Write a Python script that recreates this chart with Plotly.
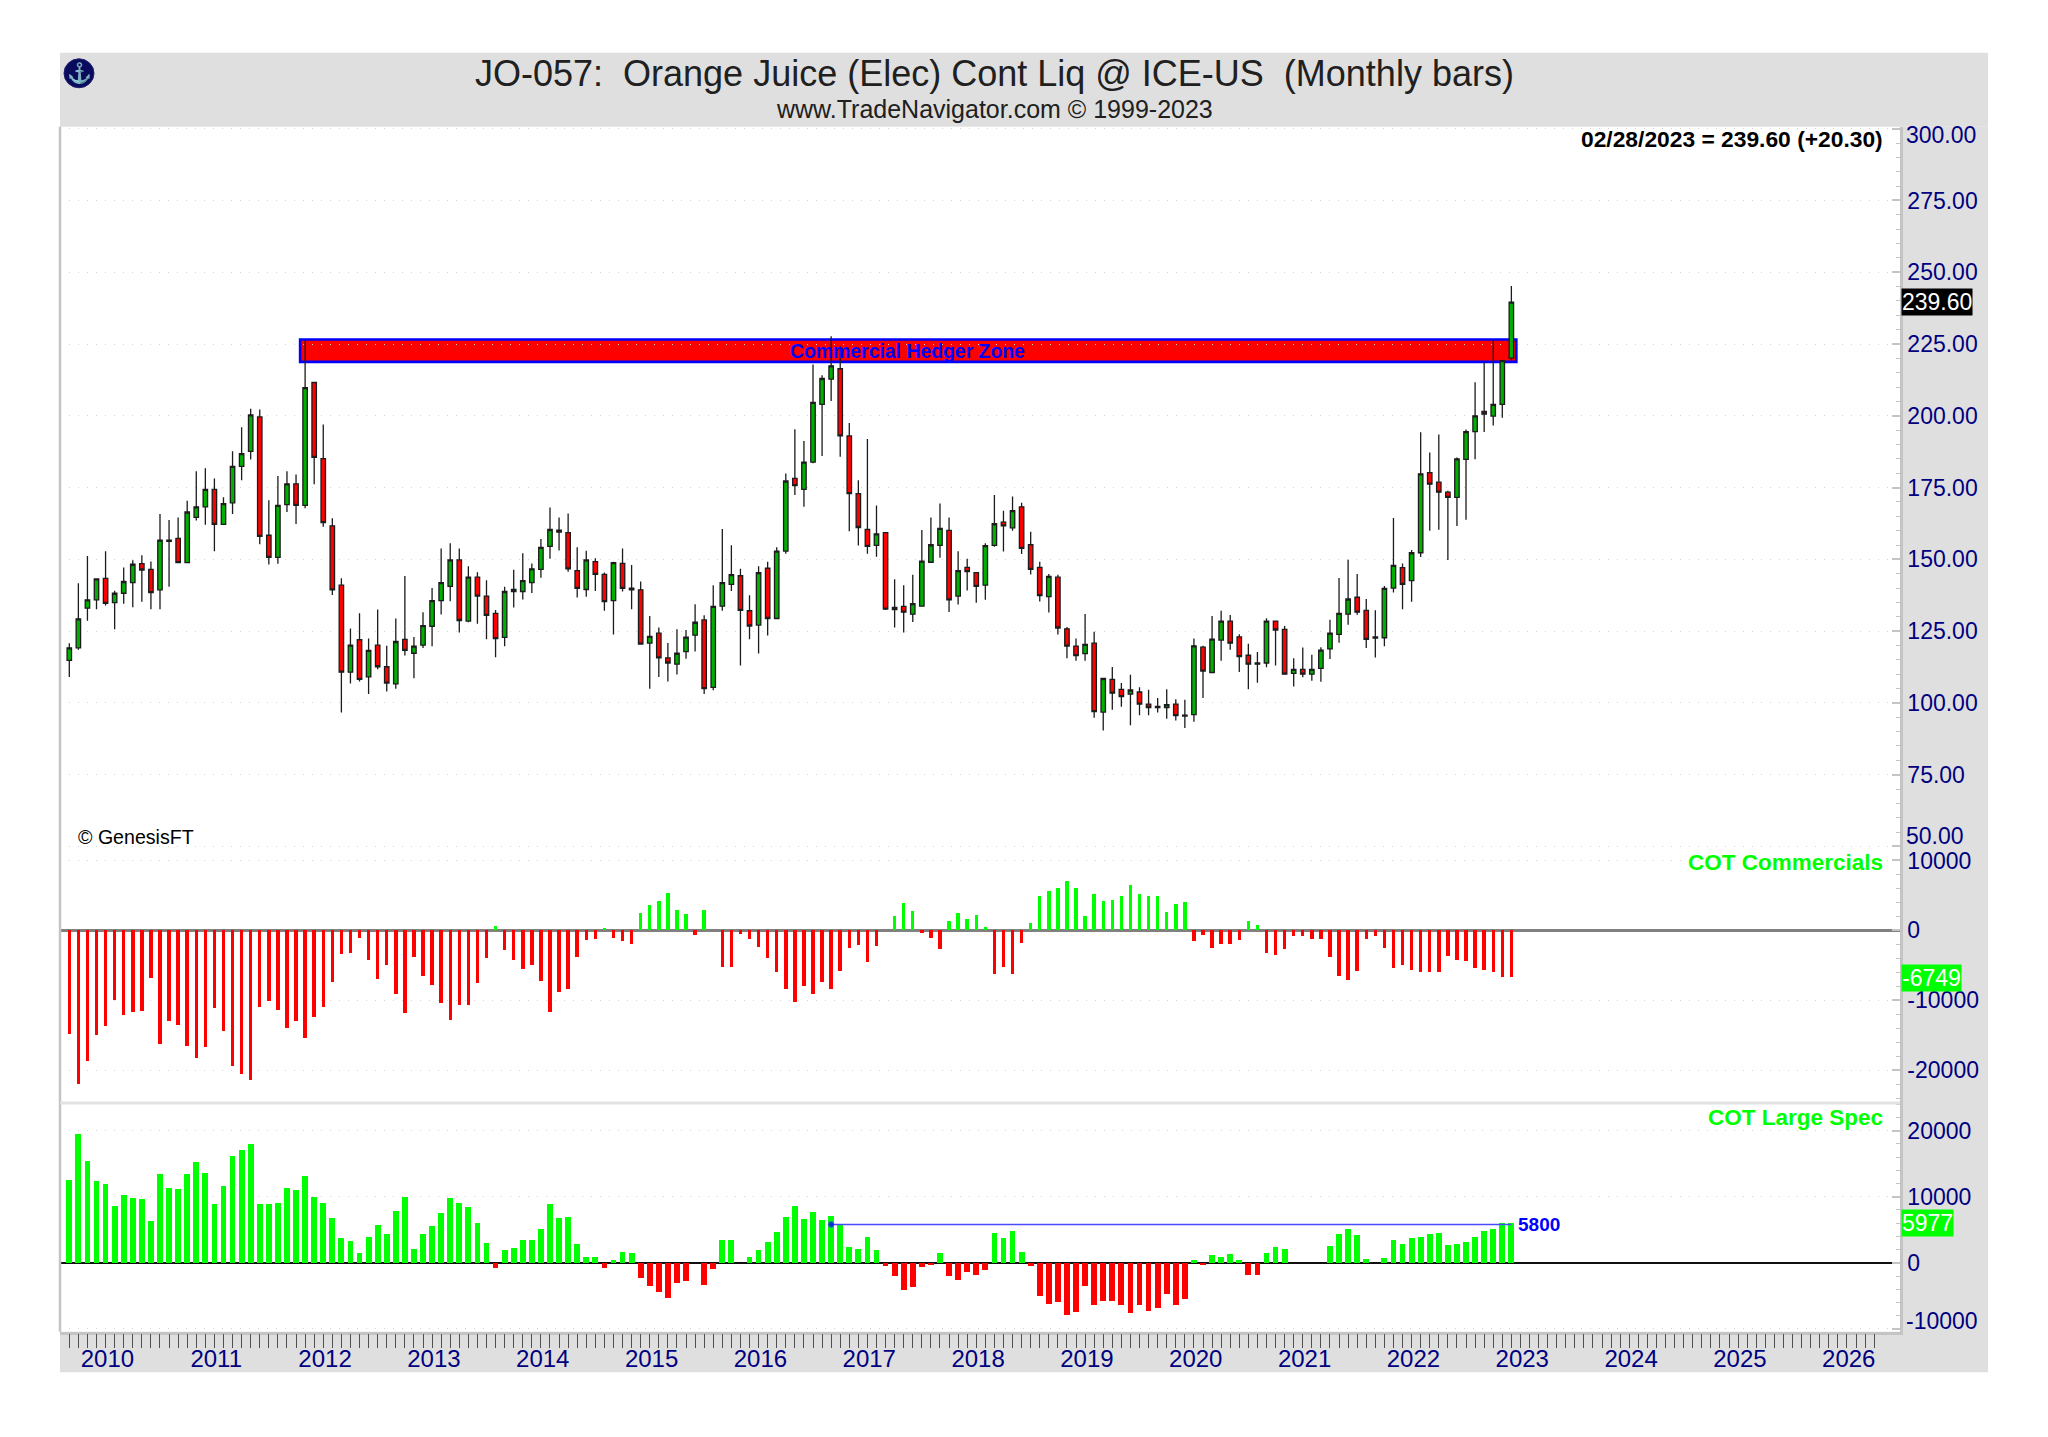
import plotly.graph_objects as go

W, H = 2048, 1437

bar_index = list(range(160))

price_open = [
 114.8,119.2,133.0,135.9,143.4,134.9,138.2,141.9,148.5,146.5,
 139.4,156.7,157.3,148.9,164.6,168.3,174.4,162.2,169.7,182.4,
 187.6,199.6,158.4,150.7,169.1,176.3,168.8,211.6,185.1,161.7,
 141.0,110.7,122.0,109.1,120.1,112.6,106.6,122.1,117.3,120.1,
 126.7,135.6,140.6,149.8,128.5,143.8,137.2,131.2,122.8,139.5,
 138.8,141.9,146.5,154.5,160.2,159.3,146.1,139.5,149.2,144.8,
 135.6,148.6,139.4,139.4,120.8,124.3,115.7,113.5,117.9,123.6,
 128.9,105.4,133.7,141.3,144.3,132.1,127.1,146.9,129.4,152.9,
 178.2,174.4,183.9,204.0,212.8,216.4,193.0,172.9,160.4,154.9,
 159.3,133.3,133.6,130.9,133.7,149.0,154.9,160.1,137.2,147.2,
 145.4,141.0,154.9,163.0,161.0,168.3,155.1,147.2,137.0,143.8,
 125.8,119.8,117.2,120.8,96.8,108.2,104.7,103.1,103.8,99.6,
 98.8,98.4,99.6,95.7,95.9,119.4,110.6,121.9,128.5,123.0,
 116.6,113.9,113.9,128.5,125.6,110.3,111.7,110.0,112.0,118.8,
 123.9,130.9,136.8,132.2,122.6,122.7,140.0,147.1,142.6,152.3,
 180.2,176.9,173.4,171.6,184.8,194.5,201.5,199.9,204.0,220.1]
price_close = [
 119.2,129.3,135.9,143.2,134.7,138.2,142.3,148.3,146.3,138.4,
 156.7,156.3,148.9,166.5,168.3,174.4,162.2,169.4,182.4,186.8,
 200.3,158.0,150.7,168.8,176.3,168.8,209.8,185.5,162.8,139.4,
 110.7,120.1,108.2,118.3,112.6,106.9,121.4,118.3,119.8,126.9,
 135.6,141.9,149.8,128.7,143.8,137.2,130.5,122.4,138.8,138.8,
 142.6,146.7,154.2,160.4,159.5,146.7,139.9,149.8,144.8,135.3,
 148.9,139.9,140.0,120.5,123.2,115.7,113.9,117.3,122.9,128.1,
 105.0,133.6,141.9,144.7,132.2,126.8,145.4,129.4,152.9,177.3,
 175.7,183.9,204.7,213.0,217.4,193.0,172.9,161.1,154.5,158.9,
 132.7,132.5,131.6,134.6,149.4,155.1,160.8,135.9,146.1,145.7,
 140.6,154.8,162.4,161.7,167.0,153.8,146.5,137.4,144.1,126.1,
 119.8,116.5,120.4,97.0,108.5,103.4,102.2,104.5,99.6,98.4,
 98.4,99.4,95.6,95.4,119.9,111.1,122.2,128.5,120.8,116.1,
 113.5,113.5,128.5,125.4,110.0,111.7,110.0,111.7,118.4,124.3,
 131.2,136.2,131.6,122.1,123.0,139.9,147.9,141.3,152.3,179.8,
 176.2,173.4,171.6,185.0,194.5,200.0,200.6,204.0,219.2,239.6]
price_high = [
 120.8,141.7,151.2,143.4,152.8,139.1,147.2,149.7,151.4,149.3,
 165.8,163.7,164.6,170.4,180.7,181.7,178.2,171.6,187.7,196.0,
 202.5,202.2,170.6,179.0,180.7,179.6,226.3,211.9,197.0,164.3,
 143.4,125.9,131.2,122.4,132.5,119.9,129.4,144.2,123.0,131.6,
 140.0,153.8,155.6,153.8,147.6,145.5,142.7,132.4,140.5,146.4,
 152.1,148.6,157.1,168.1,164.6,166.0,154.2,153.0,150.4,145.4,
 149.2,153.8,148.0,142.3,130.3,126.3,120.9,125.7,125.4,134.4,
 130.5,141.0,160.6,154.9,146.7,137.5,147.6,149.2,154.2,179.9,
 195.3,191.2,217.9,214.1,227.7,224.2,197.5,177.6,191.9,168.8,
 159.5,143.1,141.0,144.6,160.2,164.6,169.5,164.6,152.8,150.2,
 145.4,155.6,172.4,166.9,171.9,169.7,159.6,149.2,144.9,144.6,
 126.4,122.4,131.0,124.8,108.6,112.5,106.9,109.8,105.5,104.6,
 101.7,104.8,101.3,101.1,122.4,119.9,130.3,132.1,130.6,123.9,
 120.6,117.7,129.5,128.6,126.8,115.6,119.3,116.8,119.4,129.0,
 143.5,149.9,144.9,136.2,132.3,140.7,164.4,148.6,153.3,194.3,
 187.2,193.5,173.9,185.5,195.2,211.7,218.7,226.5,219.2,245.2]
price_low = [
 109.0,118.5,128.6,132.6,133.9,125.7,134.5,133.3,135.2,132.6,
 132.6,140.5,148.9,148.9,163.5,162.1,152.8,162.1,165.8,177.6,
 184.8,155.3,148.2,148.5,166.5,162.3,167.8,176.2,161.4,137.6,
 96.7,106.8,107.5,103.1,111.7,104.0,104.9,116.5,108.6,119.1,
 119.7,130.8,135.4,124.5,128.1,127.6,122.2,115.9,119.7,133.2,
 136.0,138.3,143.6,150.2,153.1,145.7,136.7,137.0,139.0,132.1,
 123.8,138.8,132.6,120.4,104.9,109.0,107.5,109.9,115.4,117.9,
 103.1,104.4,132.1,139.0,113.0,122.2,117.2,123.5,129.3,152.0,
 172.4,168.3,183.5,186.0,205.2,185.7,159.8,154.8,152.0,150.9,
 132.4,126.3,124.5,128.2,133.6,148.9,150.6,131.7,134.3,139.2,
 134.9,135.9,154.4,152.7,160.0,151.9,144.7,135.3,131.5,123.8,
 115.6,114.7,114.7,94.8,90.4,97.6,98.7,92.2,95.7,95.7,
 96.7,94.5,93.9,91.3,93.4,101.7,110.4,114.7,118.5,110.8,
 104.8,107.0,112.4,113.0,110.0,105.7,108.9,107.7,107.4,115.3,
 121.0,127.2,130.7,119.1,115.8,119.7,138.5,132.6,135.2,150.8,
 160.0,160.3,149.8,161.6,163.8,184.9,194.4,196.6,199.3,219.3]

cot_commercials = [
 -14900,-22040,-18800,-15040,-13760,-10000,-12190,-11800,-11660,-6900,
 -16330,-13090,-13610,-16610,-18280,-16760,-11190,-14520,-19470,-20660,
 -21520,-11040,-10230,-11420,-14040,-13090,-15470,-12470,-11040,-7430,
 -3380,-3240,-1190,-4280,-7040,-4950,-9230,-11950,-3810,-6660,
 -7950,-10520,-12950,-10810,-10810,-7660,-4050,520,-2860,-4280,
 -5620,-5090,-7280,-11800,-8950,-8470,-3810,-1480,-1330,330,
 -1090,-1570,-1950,2380,3520,4090,5240,2900,2240,-670,
 2900,0,-5330,-5240,-520,-1240,-2380,-4050,-6090,-8470,
 -10380,-8090,-9230,-7520,-8470,-5900,-2620,-2090,-4660,-2240,
 0,1950,3810,2760,-430,-1090,-2760,1240,2380,1620,
 2090,380,-6240,-5330,-6380,-1860,950,4860,5620,6000,
 6950,6000,2000,5140,4190,4330,4860,6430,5090,4860,
 4860,2520,3670,3950,-1620,-670,-2620,-1950,-1950,-1380,
 1240,710,-3280,-3520,-2760,-810,-810,-1330,-1240,-3810,
 -6660,-7190,-5850,-1330,-810,-2620,-5470,-5090,-5760,-6000,
 -6090,-6000,-3670,-4280,-4470,-5470,-5760,-6000,-6760,-6749]

cot_large_spec = [
 12540,19440,15410,12390,11880,8560,10220,9820,9670,6340,
 13490,11330,11180,13490,15260,13640,8860,11580,16210,17070,
 18030,8960,8860,9010,11330,11030,13090,9970,9110,6800,
 3780,3220,1460,3930,5690,4330,7900,9970,2110,4330,
 5590,7600,9820,9010,8460,5990,2970,-860,1960,2270,
 3470,3370,5040,8860,6800,6950,2820,910,910,-860,
 350,1610,1460,-2270,-3570,-4430,-5390,-3020,-2820,0,
 -3320,-1010,3370,3470,0,910,1860,3120,4630,6950,
 8610,6650,7750,6500,7100,5740,2420,2010,3930,1860,
 -550,-2060,-4180,-3730,-700,-400,1460,-2060,-2620,-1410,
 -1910,-1110,4480,3780,4780,1610,-550,-4980,-6290,-5890,
 -7960,-7400,-3570,-6440,-5790,-5740,-6440,-7550,-6440,-7250,
 -6850,-4680,-6440,-5490,450,-400,1210,910,1310,450,
 -1910,-1910,1460,2420,2110,0,0,0,0,2570,
 4330,5040,4230,500,0,760,3470,2820,3780,3930,
 4330,4480,2720,2820,3120,3930,4730,5040,5990,5977]

for series in (price_open, price_close, price_high, price_low, cot_commercials, cot_large_spec):
    assert len(series) == len(bar_index)

price_ticks = [300, 275, 250, 225, 200, 175, 150, 125, 100, 75, 50]
commercial_ticks = [10000, 0, -10000, -20000]
spec_ticks = [20000, 10000, 0, -10000]
year_labels = [str(y) for y in range(2010, 2027)]
month_ticks = list(range(200))

zone_start, zone_end = 25.45, 159.55
zone_low, zone_high = 218.8, 226.6
zone_label = "Commercial Hedger Zone"
spec_level = 5800
spec_level_start, spec_level_end = 84, 159

NAVY = "#000080"
AXIS = "#c4c4c4"
GRID = "#d4d4d4"
BAND = "#dfdfdf"
FONT = "Liberation Sans"


def fx(px):
    return px / W


def fy(py):
    # page-position correction measured against the reference
    return 1 - (py - 4 + 2.4 * (py - 52) / 1321) / H


x_range = [-1.025, 201.85]
x_domain = [fx(60), fx(1900)]
year_pos = [4.2 + 12 * k for k in range(len(year_labels))]

fig = go.Figure()
fig.add_trace(go.Candlestick(
    x=bar_index, open=price_open, high=price_high, low=price_low, close=price_close,
    xaxis="x", yaxis="y", whiskerwidth=0,
    increasing=dict(fillcolor="#00b000", line=dict(color="#1c1c1c", width=1.3)),
    decreasing=dict(fillcolor="#ff0000", line=dict(color="#1c1c1c", width=1.3)),
    showlegend=False, hoverinfo="skip"))
fig.add_trace(go.Bar(
    x=bar_index, y=cot_commercials, xaxis="x2", yaxis="y2", width=0.38,
    marker=dict(color=["#00ff00" if v > 0 else "#ff0000" for v in cot_commercials], line_width=0),
    showlegend=False, hoverinfo="skip"))
fig.add_trace(go.Bar(
    x=bar_index, y=cot_large_spec, xaxis="x3", yaxis="y3", width=0.64,
    marker=dict(color=["#00ff00" if v > 0 else "#ff0000" for v in cot_large_spec], line_width=0),
    showlegend=False, hoverinfo="skip"))
fig.add_trace(go.Scatter(
    x=[spec_level_start, spec_level_end], y=[spec_level, spec_level], xaxis="x3", yaxis="y3",
    mode="lines+markers", line=dict(color="#4a4aff", width=1.3),
    marker=dict(color="#0000ff", size=[6, 0]), showlegend=False, hoverinfo="skip"))


def y_axis(domain_px, rng, ticks, labels, minor_dtick, **kw):
    return dict(
        domain=[fy(domain_px[1]), fy(domain_px[0])], range=rng, side="right",
        tickmode="array", tickvals=ticks, ticktext=labels, ticks="inside", ticklen=8,
        tickwidth=1.5, tickcolor=AXIS, tickfont=dict(family=FONT, size=23, color=NAVY),
        showline=True, linecolor=AXIS, linewidth=2.5, showgrid=True, gridcolor=GRID,
        griddash="1px,8px", gridwidth=1, fixedrange=True,
        minor=dict(dtick=minor_dtick, ticks="inside", ticklen=4, tickcolor=AXIS, tickwidth=1, showgrid=False),
        **kw)


price_labels = [f"{t:.2f}" for t in price_ticks]
price_labels[0] = price_labels[-1] = ""
spec_labels = [str(t) for t in spec_ticks]
spec_labels[-1] = ""

hidden_x = dict(range=x_range, domain=x_domain, visible=False, fixedrange=True)

shapes = [
    # grey chart frame
    dict(type="rect", xref="paper", yref="paper", x0=fx(60), x1=fx(1988), y0=fy(126), y1=fy(52),
         fillcolor=BAND, line_width=0, layer="below"),
    dict(type="rect", xref="paper", yref="paper", x0=fx(1900), x1=fx(1988), y0=fy(1373.5), y1=fy(126),
         fillcolor=BAND, line_width=0, layer="below"),
    dict(type="rect", xref="paper", yref="paper", x0=fx(60), x1=fx(1900), y0=fy(1373.5), y1=fy(1333),
         fillcolor=BAND, line_width=0, layer="below"),
    dict(type="line", xref="paper", yref="paper", x0=fx(60), x1=fx(60), y0=fy(1333), y1=fy(126),
         line=dict(color=AXIS, width=2.5)),
    dict(type="line", xref="paper", yref="paper", x0=fx(60), x1=fx(1900), y0=fy(1104), y1=fy(1104),
         line=dict(color="#e2e2e2", width=3)),
    # hedger zone
    dict(type="rect", xref="x", yref="y", x0=zone_start, x1=zone_end, y0=zone_low, y1=zone_high,
         fillcolor="#ff0000", line=dict(color="#0000ff", width=2.6), layer="below"),
    # logo disc
    dict(type="circle", xref="paper", yref="paper", x0=fx(64), x1=fx(94), y0=fy(87), y1=fy(58),
         fillcolor="#0b0b5e", line=dict(color="#20206a", width=1)),
]


def text(px, py, s, size, color="black", anchor="left", bold=False):
    return dict(xref="paper", yref="paper", x=fx(px), y=fy(py), text=f"<b>{s}</b>" if bold else s,
                showarrow=False, xanchor=anchor, yanchor="middle",
                font=dict(family=FONT, size=size, color=color))


def badge(value, label, yref, bg):
    return dict(xref="paper", yref=yref, x=fx(1901), y=value, text=label, showarrow=False,
                xanchor="left", yanchor="middle", bgcolor=bg, borderpad=0,
                font=dict(family=FONT, size=23, color="white"))


def side_label(value, label, yref, shift):
    return dict(xref="paper", yref=yref, x=fx(1904), y=value, text=label, showarrow=False,
                xanchor="left", yanchor="middle", yshift=shift,
                font=dict(family=FONT, size=23, color=NAVY))


annotations = [
    text(994, 73, "JO-057:\u00a0 Orange Juice (Elec) Cont Liq @ ICE-US\u00a0 (Monthly bars)", 36, "#202020", "center"),
    text(994, 108, "www.TradeNavigator.com © 1999-2023", 25, "#202020", "center"),
    text(79, 72, "⚓", 20, "#d8b030", "center"),
    text(1885, 138, "02/28/2023 = 239.60 (+20.30)", 22.8, "black", "right", True),
    text(76, 837, "© GenesisFT", 19.6, "black"),
    text(1885, 863, "COT Commercials", 22.5, "#00ff00", "right", True),
    text(1885, 1118, "COT Large Spec", 22.5, "#00ff00", "right", True),
    dict(xref="x", yref="y", x=92.4, y=(zone_low + zone_high) / 2, text=f"<b>{zone_label}</b>",
         showarrow=False, font=dict(family=FONT, size=19.4, color="#0000ff")),
    dict(xref="x3", yref="y3", x=spec_level_end, y=spec_level, xshift=5, text=f"<b>{spec_level}</b>",
         showarrow=False, xanchor="left", font=dict(family=FONT, size=19, color="#0000ff")),
    side_label(price_ticks[0], f"{price_ticks[0]:.2f}", "y", -6),
    side_label(price_ticks[-1], f"{price_ticks[-1]:.2f}", "y", 10),
    side_label(spec_ticks[-1], str(spec_ticks[-1]), "y3", 8),
    badge(price_close[-1], f"{price_close[-1]:.2f}", "y", "black"),
    badge(cot_commercials[-1], str(cot_commercials[-1]), "y2", "#00ff00"),
    badge(cot_large_spec[-1], str(cot_large_spec[-1]), "y3", "#00ff00"),
]

fig.update_layout(
    width=W, height=H, margin=dict(l=0, r=0, t=0, b=0), autosize=False,
    paper_bgcolor="white", plot_bgcolor="rgba(0,0,0,0)", bargap=0, barmode="overlay",
    font=dict(family=FONT), showlegend=False, hovermode=False,
    xaxis=dict(hidden_x, anchor="y", rangeslider=dict(visible=False)),
    xaxis2=dict(hidden_x, anchor="y2"),
    xaxis3=dict(
        range=x_range, domain=x_domain, anchor="y3", fixedrange=True, showgrid=False, zeroline=False,
        showline=True, linecolor=AXIS, linewidth=2.5,
        tickmode="array", tickvals=year_pos, ticktext=year_labels, ticks="outside", ticklen=4,
        tickwidth=1, tickcolor="rgba(0,0,0,0)", tickfont=dict(family=FONT, size=24, color=NAVY),
        minor=dict(tickmode="array", tickvals=month_ticks, ticks="outside", ticklen=14,
                   tickcolor="#505050", tickwidth=1, showgrid=False)),
    yaxis=y_axis((126, 853), [47.9, 300.7], price_ticks, price_labels, 5, anchor="x", zeroline=False),
    yaxis2=y_axis((853, 1104), [-24700, 11140], commercial_ticks, [str(t) for t in commercial_ticks], 2000,
                  anchor="x2", zeroline=True, zerolinecolor="#808080", zerolinewidth=3),
    yaxis3=y_axis((1104, 1333), [-10420, 24170], spec_ticks, spec_labels, 2000,
                  anchor="x3", zeroline=True, zerolinecolor="#101010", zerolinewidth=2),
    shapes=shapes, annotations=annotations,
)

fig.write_html("out.html", config=dict(displayModeBar=False),
               post_script="document.body.style.margin='0';document.body.style.overflow='hidden';")
